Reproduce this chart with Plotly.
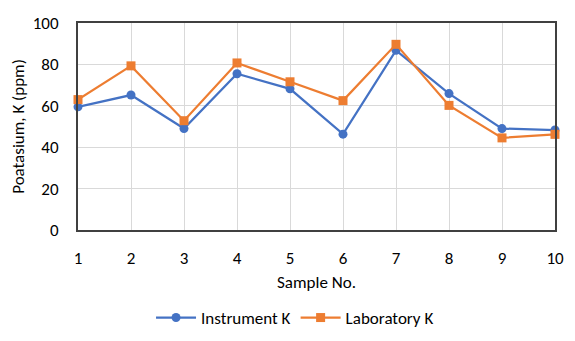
import plotly.graph_objects as go

samples = [1, 2, 3, 4, 5, 6, 7, 8, 9, 10]
instrument_k = [59.5, 65.2, 49.0, 75.5, 68.2, 46.3, 86.8, 65.9, 49.0, 48.3]
laboratory_k = [63.0, 79.3, 52.8, 80.7, 71.6, 62.5, 89.7, 60.2, 44.5, 46.2]
y_ticks = [0, 20, 40, 60, 80, 100]

font_family = "Carlito, Calibri, Lato, 'Liberation Sans', Arial, sans-serif"
fs = 17
# page body has an 8px default offset; compensate in margins
off = 8

fig = go.Figure()
fig.add_trace(go.Scatter(
    x=samples, y=instrument_k, name="Instrument K", mode="lines+markers",
    line=dict(color="#4472C4", width=2.25),
    marker=dict(symbol="circle", size=9, color="#4472C4"),
    cliponaxis=False,
))
fig.add_trace(go.Scatter(
    x=samples, y=laboratory_k, name="Laboratory K", mode="lines+markers",
    line=dict(color="#ED7D31", width=2.25),
    marker=dict(symbol="square", size=9, color="#ED7D31"),
    cliponaxis=False,
))

fig.update_layout(
    width=575, height=341,
    margin=dict(l=78 - off, r=20 + off, t=23 - off, b=111 + off, autoexpand=False),
    paper_bgcolor="white", plot_bgcolor="white",
    font=dict(family=font_family, size=fs, color="#000000"),
    showlegend=True,
    legend=dict(orientation="h", x=0.455, xref="paper", y=(341 - 318 + off) / 341, yref="container",
                xanchor="center", yanchor="middle", itemwidth=40,
                font=dict(size=fs), bgcolor="rgba(0,0,0,0)"),
    xaxis=dict(
        range=[1, 10], tickvals=samples, ticktext=[str(s) for s in samples],
        showgrid=True, gridcolor="#D9D9D9", gridwidth=1,
        showline=True, linecolor="#404040", linewidth=2, mirror=True,
        ticks="", zeroline=False, automargin=False, ticklabelstandoff=12,
        title=dict(text="Sample No.", font=dict(size=fs), standoff=8),
    ),
    yaxis=dict(
        range=[0, 100], tickvals=y_ticks,
        showgrid=True, gridcolor="#D9D9D9", gridwidth=1,
        showline=True, linecolor="#404040", linewidth=2, mirror=True,
        ticks="", zeroline=False, automargin=False, ticklabelstandoff=14,
        title=dict(text="Poatasium, K (ppm)", font=dict(size=fs), standoff=12),
    ),
)

fig.write_html("out.html")
